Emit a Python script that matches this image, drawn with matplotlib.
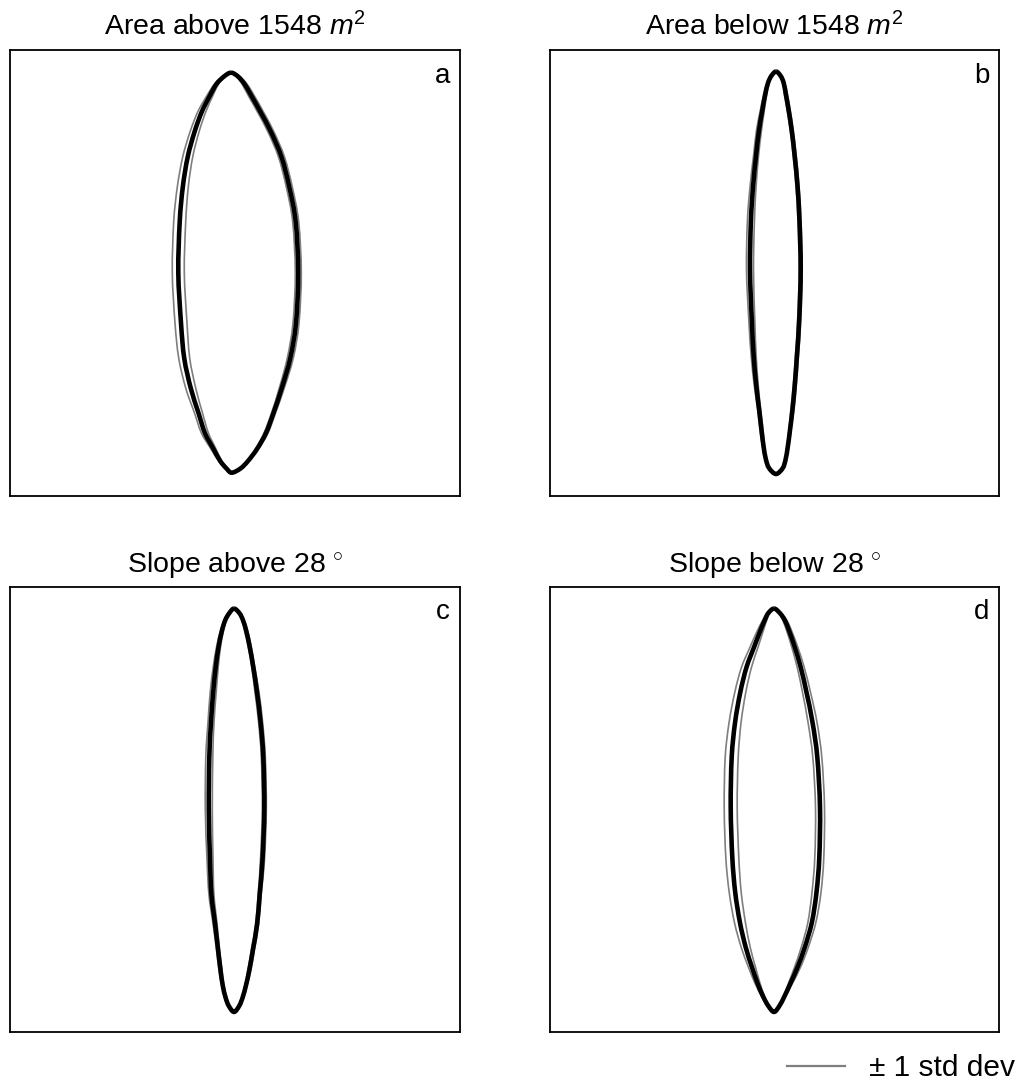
import numpy as np
import matplotlib
matplotlib.use("Agg")
import matplotlib.pyplot as plt
from matplotlib.path import Path
from matplotlib.patches import PathPatch
from matplotlib.lines import Line2D

plt.rcParams['font.family'] = ['Liberation Sans', 'DejaVu Sans']
plt.rcParams['mathtext.fontset'] = 'custom'
plt.rcParams['mathtext.rm'] = 'Liberation Sans'
plt.rcParams['mathtext.it'] = 'Liberation Sans:italic'

# ---------------- data: mean outline (left / right edge) and std per level ----------------
titles = ['Area above 1548 $m^2$', 'Area below 1548 $m^2$',
          'Slope above 28$\\,^\\circ$', 'Slope below 28$\\,^\\circ$']
panel_labels = ['a', 'b', 'c', 'd']
legend_label = '± 1 std dev'

# panel a
y_a = [200.3, 196.5, 189, 177, 161, 141, 116, 86, 51, 0.3, -50, -85, -115, -140, -160, -176, -188, -195.5, -199.7]
left_a = [-4, -11, -18.5, -25.3, -33.3, -40.5, -47.3, -52.2, -55.3, -56.7, -54, -50.8, -44.3, -36.5, -30.1, -21.5, -14.8, -8.5, -3.3]
right_a = [-4, 3, 9.5, 16.5, 25.5, 36, 46.5, 54.3, 60.7, 63.3, 61, 55.3, 46.8, 38.5, 31, 22, 13, 5.5, -3.3]
sdl_a = [0, 1, 2, 3, 4, 4.5, 5, 5.5, 6, 6, 6, 5.5, 5, 4, 3.5, 2.5, 1.5, 0.5, 0]
sdr_a = [0, 1.5, 2.5, 3, 3, 3, 3, 3, 3, 3, 3, 3, 2.5, 2, 2, 1.5, 1, 0.5, 0]

# panel b
y_b = [201.5, 197, 190, 178, 162, 142, 117, 87, 52, 3, -47, -82, -112, -137, -157, -173, -186, -195, -201]
left_b = [1.5, -3.2, -6.5, -9.4, -12.3, -15.6, -18.5, -21.4, -23.6, -24.5, -22.7, -20.9, -18.3, -15.3, -13, -11, -8.7, -5.5, 1.5]
right_b = [1.5, 6.2, 9.2, 11.5, 14.3, 17.3, 20.2, 23, 25, 26.2, 24.7, 22.5, 20.3, 17.9, 15.5, 13.4, 11.2, 8.3, 1.5]
sdl_b = [0, 0.5, 1, 1.5, 2, 2.5, 2.5, 3, 3.5, 3.5, 3, 2.5, 2, 1.5, 1.5, 1, 0.5, 0.5, 0]
sdr_b = [0, 0.5, 1, 1.5, 1.5, 1.5, 1.5, 1.5, 1.5, 1.5, 1.5, 1.5, 1.5, 1.5, 1, 1, 0.5, 0.5, 0]

# panel c
y_c = [200.7, 196, 189, 178, 162, 142, 117, 87, 52, 0, -50, -85, -115, -140, -160, -176, -188, -196.5, -202.7]
left_c = [-1, -5.8, -9.8, -13.2, -16.5, -19.3, -21.8, -24, -25.7, -26.2, -25, -23.6, -19.9, -17, -14.6, -12.3, -9.5, -6.3, -1]
right_c = [-1, 4.5, 8, 11.3, 14.8, 18.3, 22, 25.6, 28.3, 29.3, 27.5, 24.7, 22.1, 18, 14.5, 11, 7.7, 4.3, -1]
sdl_c = [0, 0.5, 1, 1.5, 2, 2.5, 3, 3, 3.5, 3.5, 3, 2.5, 2, 1.5, 1.5, 1, 1, 0.5, 0]
sdr_c = [0, 0.5, 1, 1.5, 1.5, 1.5, 2, 2, 2, 2, 2, 1.5, 1.5, 1.5, 1.5, 1, 1, 0.5, 0]

# panel d
y_d = [200.7, 196, 189, 178, 162, 142, 117, 87, 52, 2, -48, -83, -113, -138, -158, -174, -187, -196.5, -202.7]
left_d = [-0.5, -6.3, -9.8, -14.4, -20.5, -28, -34.2, -39.4, -42.8, -43.8, -42.2, -39.3, -34.6, -28.8, -22.5, -17, -11.5, -6.3, -0.5]
right_d = [-0.5, 5.5, 10.3, 14.8, 20.3, 26.2, 32, 38, 42.8, 45.5, 44.8, 42, 37.4, 30.3, 23, 16, 10, 5, -0.5]
sdl_d = [0, 1, 2, 3, 4, 5, 5.5, 6, 6.5, 6.5, 6.5, 6, 5.5, 4.5, 3.5, 2.5, 1.5, 0.5, 0]
sdr_d = [0, 1, 2, 2.5, 3, 3.5, 4, 4.5, 4.5, 4.5, 4.5, 4.5, 4, 3.5, 3, 2, 1, 0.5, 0]

panels = [(y_a, left_a, right_a, sdl_a, sdr_a),
          (y_b, left_b, right_b, sdl_b, sdr_b),
          (y_c, left_c, right_c, sdl_c, sdr_c),
          (y_d, left_d, right_d, sdl_d, sdr_d)]


def smooth_closed_path(xs, ys):
    """Closed cubic-Bezier path (Catmull-Rom tangents) through the outline points."""
    P = np.column_stack([xs, ys])
    n = len(P)
    verts = [P[0]]
    codes = [Path.MOVETO]
    for i in range(n):
        p0, p1 = P[i - 1], P[i]
        p2, p3 = P[(i + 1) % n], P[(i + 2) % n]
        verts += [p1 + (p2 - p0) / 6.0, p2 - (p3 - p1) / 6.0, p2]
        codes += [Path.CURVE4] * 3
    return Path(verts, codes)


def outline(y, left, right):
    y = np.asarray(y, float)
    left = np.asarray(left, float)
    right = np.asarray(right, float)
    # down the right side, then back up the left side (tips shared once)
    xs = np.concatenate([right, left[-2:0:-1]])
    ys = np.concatenate([y, y[-2:0:-1]])
    return xs, ys


W, H = 1023, 1081
fig = plt.figure(figsize=(W / 100, H / 100), dpi=100)

boxes = [(10, 50, 460, 496), (550, 50, 999, 496),
         (10, 586.5, 460, 1032), (550, 586.5, 999, 1032)]

for k, (x0, y0, x1, y1) in enumerate(boxes):
    ax = fig.add_axes([x0 / W, 1 - y1 / H, (x1 - x0) / W, (y1 - y0) / H])
    yv, lv, rv, sl, sr = [np.asarray(v, float) for v in panels[k]]
    # gray +/- 1 std outlines
    for s in (+1, -1):
        xs, ys = outline(yv, lv - s * sl, rv + s * sr)
        ax.add_patch(PathPatch(smooth_closed_path(xs, ys), fill=False,
                               edgecolor='#7f7f7f', lw=1.2, zorder=2))
    xs, ys = outline(yv, lv, rv)
    ax.add_patch(PathPatch(smooth_closed_path(xs, ys), fill=False,
                           edgecolor='black', lw=3.3, zorder=3,
                           joinstyle='round'))
    ax.set_xlim(-(x1 - x0) / 2, (x1 - x0) / 2)
    ax.set_ylim(-(y1 - y0) / 2, (y1 - y0) / 2)
    ax.set_xticks([])
    ax.set_yticks([])
    for sp in ax.spines.values():
        sp.set_linewidth(1.3)
        sp.set_color('black')
    ax.set_title(titles[k], fontsize=20.5, pad=10.5)
    ax.text(0.978, 0.971, panel_labels[k], transform=ax.transAxes,
            ha='right', va='top', fontsize=20)

handle = Line2D([], [], color='#7f7f7f', lw=1.6)
fig.legend([handle], [legend_label], loc='lower right',
           bbox_to_anchor=(1.004, -0.012), frameon=False, fontsize=21.5,
           handlelength=1.95, handletextpad=0.8, borderaxespad=0.0)

fig.savefig('out.png', dpi=100)
